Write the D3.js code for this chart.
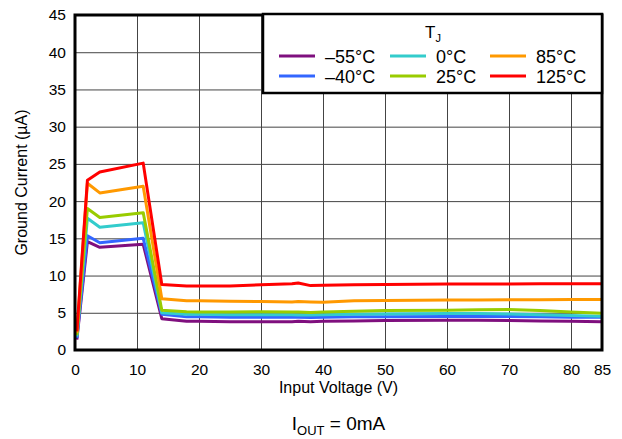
<!DOCTYPE html>
<html>
<head>
<meta charset="utf-8">
<script src="https://cdn.jsdelivr.net/npm/d3@7"></script>
<style>
  body { margin: 0; background: #fff; }
  svg text { font-family: "Liberation Sans", Arial, sans-serif; fill: #000; }
</style>
</head>
<body>
<div id="chart"></div>
<script>
  // input voltage (V) sample points shared by all curves
  var voltage = [0.3, 2, 4, 11, 14, 18, 20, 25, 30, 35, 36, 38, 40, 45, 50, 60, 65, 70, 75, 80, 85];

  // ground current (uA) per junction temperature
  var tempM55 = [1.4, 14.55, 13.8, 14.2, 4.2, 3.85, 3.85, 3.8, 3.8, 3.8, 3.85, 3.8, 3.85, 3.9, 3.95, 4.0, 4.0, 3.95, 3.9, 3.85, 3.8];
  var tempM40 = [1.6, 15.35, 14.4, 15.0, 4.8, 4.45, 4.45, 4.4, 4.4, 4.4, 4.4, 4.35, 4.4, 4.45, 4.45, 4.5, 4.5, 4.5, 4.45, 4.4, 4.4];
  var temp0 = [1.8, 17.7, 16.5, 17.1, 5.0, 4.8, 4.8, 4.75, 4.75, 4.75, 4.7, 4.7, 4.75, 4.8, 4.85, 4.9, 4.9, 4.85, 4.75, 4.65, 4.55];
  var temp25 = [2.0, 19.0, 17.8, 18.45, 5.35, 5.15, 5.1, 5.1, 5.15, 5.1, 5.1, 5.05, 5.1, 5.2, 5.3, 5.35, 5.4, 5.45, 5.3, 5.1, 4.95];
  var temp85 = [2.3, 22.4, 21.1, 22.0, 6.9, 6.6, 6.6, 6.55, 6.5, 6.45, 6.5, 6.45, 6.4, 6.6, 6.65, 6.7, 6.7, 6.75, 6.75, 6.8, 6.8];
  var temp125 = [2.5, 22.8, 23.9, 25.1, 8.8, 8.6, 8.6, 8.6, 8.75, 8.9, 9.0, 8.65, 8.7, 8.75, 8.8, 8.85, 8.85, 8.85, 8.9, 8.9, 8.9];

  var seriesNames = ["\u201355\u00B0C", "\u201340\u00B0C", "0\u00B0C", "25\u00B0C", "85\u00B0C", "125\u00B0C"];
  var seriesValues = [tempM55, tempM40, temp0, temp25, temp85, temp125];
  var seriesColors = ["#7f0f7e", "#3366ff", "#33cccc", "#99cc00", "#ff9900", "#ff0000"];

  var xTicks = [0, 10, 20, 30, 40, 50, 60, 70, 80, 85];
  var yTicks = [0, 5, 10, 15, 20, 25, 30, 35, 40, 45];

  var width = 622, height = 439;
  var margin = {top: 15, right: 20, bottom: 89, left: 75};
  var plotW = width - margin.left - margin.right,
      plotH = height - margin.top - margin.bottom;

  var svg = d3.select("#chart").append("svg")
      .attr("width", width)
      .attr("height", height);

  var g = svg.append("g")
      .attr("transform", "translate(" + margin.left + "," + margin.top + ")");

  var xScale = d3.scaleLinear().domain([0, 85]).range([0, plotW]);
  var yScale = d3.scaleLinear().domain([0, 45]).range([plotH, 0]);

  //grid lines
  var xAxisGrid = d3.axisBottom(xScale).tickValues(xTicks).tickSize(-plotH).tickFormat("");
  var yAxisGrid = d3.axisLeft(yScale).tickValues(yTicks).tickSize(-plotW).tickFormat("");

  g.append("g")
    .attr("transform", "translate(0," + plotH + ")")
    .call(xAxisGrid)
    .call(function(s) {
      s.select(".domain").remove();
      s.selectAll("line").attr("stroke", "#444").attr("stroke-width", 1);
    });

  g.append("g")
    .call(yAxisGrid)
    .call(function(s) {
      s.select(".domain").remove();
      s.selectAll("line").attr("stroke", "#444").attr("stroke-width", 1);
    });

  //tick labels
  var xAxis = d3.axisBottom(xScale).tickValues(xTicks).tickSize(0).tickPadding(14);
  var yAxis = d3.axisLeft(yScale).tickValues(yTicks).tickSize(0).tickPadding(9);

  g.append("g")
    .attr("transform", "translate(0," + plotH + ")")
    .call(xAxis)
    .call(function(s) {
      s.select(".domain").remove();
      s.selectAll("text").attr("font-size", 15.5).attr("font-family", "Liberation Sans, Arial, sans-serif");
    });

  g.append("g")
    .call(yAxis)
    .call(function(s) {
      s.select(".domain").remove();
      s.selectAll("text").attr("font-size", 15.5).attr("font-family", "Liberation Sans, Arial, sans-serif");
    });

  //curves
  var line = d3.line()
    .x(function(d) { return xScale(d[0]); })
    .y(function(d) { return yScale(d[1]); });

  svg.append("defs").append("clipPath").attr("id", "plotclip")
    .append("rect").attr("width", plotW).attr("height", plotH);

  g.append("g")
    .attr("clip-path", "url(#plotclip)")
    .selectAll("path")
    .data(seriesValues)
    .enter().append("path")
      .attr("d", function(vals) {
        return line(vals.map(function(v, i) { return [voltage[i], v]; }));
      })
      .attr("fill", "none")
      .attr("stroke", function(d, i) { return seriesColors[i]; })
      .attr("stroke-width", 3)
      .attr("stroke-linejoin", "round");

  //plot border
  g.append("rect")
    .attr("width", plotW)
    .attr("height", plotH)
    .attr("fill", "none")
    .attr("stroke", "#000")
    .attr("stroke-width", 3);

  //legend
  var legX = 263, legY = 14, legW = plotW + margin.left - 263, legH = 79;
  var legend = svg.append("g");
  legend.append("rect")
    .attr("x", legX).attr("y", legY)
    .attr("width", legW).attr("height", legH)
    .attr("fill", "#fff")
    .attr("stroke", "#000")
    .attr("stroke-width", 2.5);

  var ttl = legend.append("text")
    .attr("x", 433).attr("y", 38)
    .attr("text-anchor", "middle")
    .attr("font-size", 17);
  ttl.append("tspan").text("T");
  ttl.append("tspan").attr("font-size", 11).attr("dy", 4).text("J");

  var colX = [279, 390, 490];
  seriesNames.forEach(function(name, i) {
    var col = Math.floor(i / 2), row = i % 2;
    var cy = 56 + row * 20;
    legend.append("line")
      .attr("x1", colX[col]).attr("x2", colX[col] + 36)
      .attr("y1", cy).attr("y2", cy)
      .attr("stroke", seriesColors[i])
      .attr("stroke-width", 3);
    legend.append("text")
      .attr("x", colX[col] + 46).attr("y", cy + 6.5)
      .attr("font-size", 18)
      .text(name);
  });

  //axis titles
  svg.append("text")
    .attr("x", margin.left + plotW / 2)
    .attr("y", 393)
    .attr("text-anchor", "middle")
    .attr("font-size", 16)
    .text("Input Voltage (V)");

  svg.append("text")
    .attr("transform", "translate(27," + (margin.top + plotH / 2) + ") rotate(-90)")
    .attr("text-anchor", "middle")
    .attr("font-size", 16)
    .text("Ground Current (\u00B5A)");

  var note = svg.append("text")
    .attr("x", margin.left + plotW / 2)
    .attr("y", 430)
    .attr("text-anchor", "middle")
    .attr("font-size", 19);
  note.append("tspan").text("I");
  note.append("tspan").attr("font-size", 13).attr("dy", 5).text("OUT");
  note.append("tspan").attr("dy", -5).text(" = 0mA");
</script>
</body>
</html>
